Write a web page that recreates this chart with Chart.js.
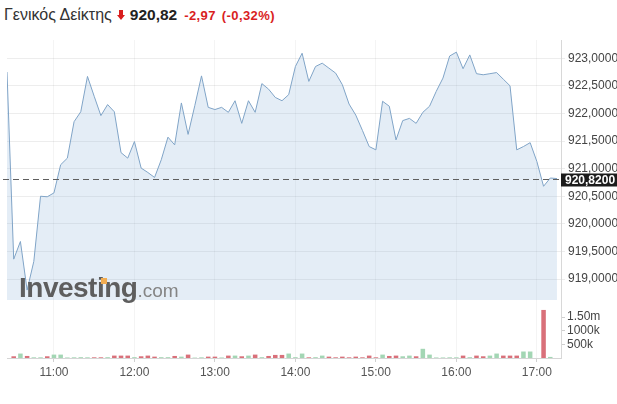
<!DOCTYPE html>
<html>
<head>
<meta charset="utf-8">
<script src="https://cdn.jsdelivr.net/npm/chart.js@4/dist/chart.umd.min.js"></script>
<style>
    body { margin: 0; width: 617px; height: 404px; background: #fff; position: relative; overflow: hidden;
           font-family: "Liberation Sans", Arial, sans-serif; }
    #title { position: absolute; left: 4px; top: 6px; white-space: nowrap; line-height: 18px; }
    #title .name { font-size: 16px; color: #333; }
    #title svg { margin-left: 5px; }
    #title .last { font-size: 15.5px; font-weight: bold; color: #222; margin-left: 5px; }
    #title .chg { font-size: 13px; font-weight: bold; color: #d91e1e; margin-left: 7px; letter-spacing: 0.4px; }
    #title .pct { font-size: 13px; font-weight: bold; color: #d91e1e; margin-left: 6px; letter-spacing: 0.4px; }
    #priceChart { position: absolute; left: 0; top: 40px; }
    #volChart { position: absolute; left: 0; top: 300px; }
    #mark { position: absolute; left: 19px; top: 274px; font-size: 28px; line-height: 28px; font-weight: bold;
            color: #5e5e5e; letter-spacing: -0.5px; white-space: nowrap; }
    #mark span { font-size: 19px; font-weight: normal; color: #858585; letter-spacing: 0; }
    #dot { position: absolute; left: 101px; top: 278px; width: 6px; height: 6px; background: #f2ad52; }
</style>
</head>
<body>
<div id="title">
    <span class="name">Γενικός Δείκτης</span><svg width="8" height="10" viewBox="0 0 8 10"><polygon points="2,0 6,0 6,5 8,5 4,10 0,5 2,5" fill="#d91e1e"/></svg><span class="last">920,82</span><span class="chg">-2,97</span><span class="pct">(-0,32%)</span>
</div>
<canvas id="priceChart" width="617" height="260"></canvas>
<canvas id="volChart" width="617" height="104"></canvas>
<div id="mark">Investing<span>.com</span></div>
<div id="dot"></div>
<script>
// 5-minute session, 10:25 - 17:15
const times = [
    '10:25', '10:30', '10:35', '10:40', '10:45', '10:50', '10:55',
    '11:00', '11:05', '11:10', '11:15', '11:20', '11:25', '11:30', '11:35', '11:40', '11:45', '11:50', '11:55',
    '12:00', '12:05', '12:10', '12:15', '12:20', '12:25', '12:30', '12:35', '12:40', '12:45', '12:50', '12:55',
    '13:00', '13:05', '13:10', '13:15', '13:20', '13:25', '13:30', '13:35', '13:40', '13:45', '13:50', '13:55',
    '14:00', '14:05', '14:10', '14:15', '14:20', '14:25', '14:30', '14:35', '14:40', '14:45', '14:50', '14:55',
    '15:00', '15:05', '15:10', '15:15', '15:20', '15:25', '15:30', '15:35', '15:40', '15:45', '15:50', '15:55',
    '16:00', '16:05', '16:10', '16:15', '16:20', '16:25', '16:30', '16:35', '16:40', '16:45', '16:50', '16:55',
    '17:00', '17:05', '17:10', '17:15'
];
const price = [
    922.75, 919.36, 919.68, 918.80, 919.32, 920.50, 920.49,
    920.56, 921.07, 921.19, 921.85, 922.03, 922.67, 922.31, 921.96, 922.16, 922.03, 921.29, 921.19,
    921.49, 921.01, 920.93, 920.84, 921.16, 921.57, 921.43, 922.19, 921.62, 922.14, 922.68, 922.11,
    922.07, 922.11, 922.02, 922.23, 921.82, 922.23, 922.02, 922.54, 922.44, 922.29, 922.23, 922.34,
    922.85, 923.09, 922.58, 922.85, 922.91, 922.82, 922.73, 922.52, 922.17, 921.97, 921.69, 921.40,
    921.34, 922.22, 922.13, 921.52, 921.87, 921.91, 921.82, 922.02, 922.13, 922.40, 922.64, 923.04,
    923.11, 922.81, 923.06, 922.72, 922.70, 922.72, 922.74, 922.62, 922.50, 921.34, 921.40, 921.47,
    921.13, 920.68, 920.83, 920.82
];
// volume in thousands
const volume = [
    0, 63, 163, 75, 25, 25, 63,
    125, 125, 20, 25, 30, 25, 25, 25, 30, 88, 88, 88,
    30, 63, 88, 50, 30, 30, 75, 50, 125, 15, 25, 50,
    50, 20, 88, 88, 63, 88, 125, 30, 75, 113, 113, 163,
    30, 163, 25, 30, 88, 50, 25, 50, 25, 50, 25, 88,
    25, 125, 75, 88, 63, 88, 63, 338, 125, 20, 20, 25,
    25, 88, 30, 88, 63, 88, 163, 88, 88, 88, 238, 238,
    0, 1765, 40, 0
];
const lastClose = 920.82;
const hourTicks = ['11:00', '12:00', '13:00', '14:00', '15:00', '16:00', '17:00'];
const priceTicks = [919, 919.5, 920, 920.5, 921, 921.5, 922, 922.5, 923];
const volTicks = [500, 1000, 1500];
const volTickLabels = ['500k', '1000k', '1.50m'];

Chart.defaults.font.family = '"Liberation Sans", Arial, sans-serif';
Chart.defaults.font.size = 12;

const fmt = v => v.toFixed(4).replace('.', ',');
const hourIdx = () => hourTicks.map(h => ({ value: times.indexOf(h) }));
const xMax = times.length - 0.4;

const lastPrice = {
    id: 'lastPrice',
    afterDraw(chart) {
        const { ctx, chartArea, scales } = chart;
        const y = Math.round(scales.y.getPixelForValue(lastClose)) + 0.5;
        ctx.save();
        ctx.strokeStyle = '#5f5f5f';
        ctx.lineWidth = 1;
        ctx.setLineDash([6, 4]);
        ctx.beginPath();
        ctx.moveTo(3, y);
        ctx.lineTo(chartArea.right, y);
        ctx.stroke();
        ctx.setLineDash([]);
        ctx.fillStyle = '#1c1c1c';
        ctx.fillRect(chartArea.right, y - 6, chart.width - chartArea.right, 13);
        ctx.fillStyle = '#fff';
        ctx.font = 'bold 12px "Liberation Sans"';
        ctx.textBaseline = 'middle';
        ctx.fillText(fmt(lastClose), chartArea.right + 4, y + 1);
        ctx.restore();
    }
};

new Chart(document.getElementById('priceChart'), {
    type: 'line',
    data: {
        datasets: [{
            data: price.map((v, i) => ({ x: i, y: v })),
            borderColor: '#80a4c7',
            borderWidth: 1,
            backgroundColor: 'rgba(120,165,210,0.2)',
            fill: 'start',
            pointRadius: 0,
            tension: 0
        }]
    },
    options: {
        responsive: false,
        animation: false,
        layout: { padding: { left: 7 } },
        plugins: { legend: { display: false }, tooltip: { enabled: false } },
        scales: {
            x: {
                type: 'linear', min: 0, max: xMax,
                afterBuildTicks: s => { s.ticks = hourIdx(); },
                ticks: { display: false },
                grid: { color: 'rgba(0,0,0,0.045)', drawTicks: false },
                border: { color: '#bdbdbd' },
                afterFit: s => { s.height = 0; s.paddingLeft = 0; s.paddingRight = 0; }
            },
            y: {
                position: 'right', min: 918.62, max: 923.33,
                afterBuildTicks: s => { s.ticks = priceTicks.map(v => ({ value: v })); },
                ticks: { callback: v => fmt(v), color: '#444', padding: 3 },
                grid: { color: 'rgba(0,0,0,0.07)', tickLength: 4 },
                border: { color: '#d8d8d8' },
                afterFit: s => { s.width = 56; s.paddingTop = 0; s.paddingBottom = 0; }
            }
        }
    },
    plugins: [lastPrice]
});

new Chart(document.getElementById('volChart'), {
    type: 'bar',
    data: {
        datasets: [{
            data: volume.map((v, i) => ({ x: i, y: v })),
            backgroundColor: price.map((v, i) => (i > 0 && v > price[i - 1]) ? '#a3d6b4' : '#d9707a'),
            categoryPercentage: 0.75,
            barPercentage: 0.9
        }]
    },
    options: {
        responsive: false,
        animation: false,
        layout: { padding: { left: 7 } },
        plugins: { legend: { display: false }, tooltip: { enabled: false } },
        scales: {
            x: {
                type: 'linear', min: 0, max: xMax, offset: false,
                afterBuildTicks: s => { s.ticks = hourIdx(); },
                ticks: { callback: v => times[v], color: '#555', padding: 3, maxRotation: 0, autoSkip: false },
                grid: { color: 'rgba(0,0,0,0.045)', tickColor: '#d0d0d0', tickLength: 4, offset: false },
                border: { color: '#d5d5d5' },
                afterFit: s => { s.height = 46; s.paddingLeft = 0; s.paddingRight = 0; }
            },
            y: {
                position: 'right', min: 0, max: 2130,
                afterBuildTicks: s => { s.ticks = volTicks.map(v => ({ value: v })); },
                ticks: { callback: v => volTickLabels[volTicks.indexOf(v)], color: '#444', padding: 2 },
                grid: { drawOnChartArea: false, tickLength: 4, color: '#cfcfcf' },
                border: { color: '#d8d8d8' },
                afterFit: s => { s.width = 56; s.paddingTop = 0; s.paddingBottom = 0; }
            }
        }
    }
});
</script>
</body>
</html>
